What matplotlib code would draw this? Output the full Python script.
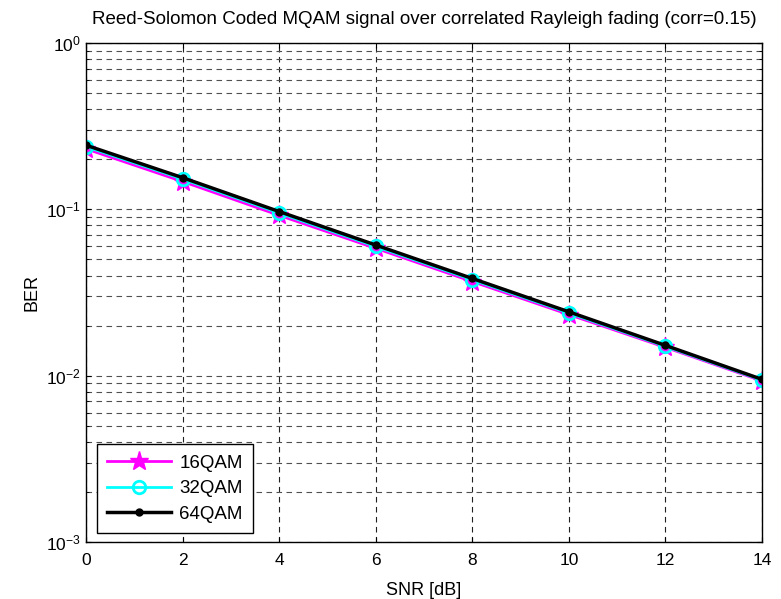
import math
import matplotlib.pyplot as plt
from matplotlib.ticker import LogLocator, NullFormatter, FuncFormatter

plt.rcParams['font.family'] = ['Liberation Sans', 'DejaVu Sans']

snr = [0, 2, 4, 6, 8, 10, 12, 14]
ber_16 = [0.231, 0.147, 0.092, 0.0583, 0.0368, 0.0233, 0.0148, 0.0093]
ber_32 = [0.238, 0.152, 0.095, 0.0598, 0.0377, 0.0238, 0.0150, 0.0094]
ber_64 = [0.243, 0.155, 0.097, 0.0610, 0.0384, 0.0242, 0.0152, 0.0095]
xticks = [0, 2, 4, 6, 8, 10, 12, 14]

fig = plt.figure(figsize=(7.81, 5.99), dpi=100)
ax = fig.add_axes([86 / 781, 1 - 542 / 599, 676 / 781, 499 / 599])

ax.semilogy(snr, ber_16, color='magenta', lw=2, marker='*', ms=14, label='16QAM')
ax.semilogy(snr, ber_32, color='cyan', lw=2, marker='o', ms=9, mfc='none', mew=2, label='32QAM')
ax.semilogy(snr, ber_64, color='black', lw=2.5, marker='o', ms=5, label='64QAM')

ax.set_xlim(0, 14)
ax.set_ylim(1e-3, 1)
ax.set_xticks(xticks)
ax.yaxis.set_major_locator(LogLocator(base=10, numticks=10))
ax.yaxis.set_major_formatter(FuncFormatter(lambda v, p: r'$\mathregular{10^{%d}}$' % round(math.log10(v))))
ax.yaxis.set_minor_locator(LogLocator(base=10, subs=range(2, 10), numticks=20))
ax.yaxis.set_minor_formatter(NullFormatter())
ax.grid(True, which='both', axis='y', ls=(0, (5, 4)), color='#505050', lw=0.8)
ax.grid(True, which='major', axis='x', ls=(0, (5, 4)), color='#202020', lw=0.8)
ax.tick_params(direction='in', which='both', top=True, right=True, labelsize=12.5)
ax.tick_params(axis='x', pad=8)
for s in ax.spines.values():
    s.set_linewidth(1.0)

ax.set_xlabel('SNR [dB]', fontsize=13, labelpad=10)
ax.set_ylabel('BER', fontsize=13, labelpad=4)
ax.set_title('Reed-Solomon Coded MQAM signal over correlated Rayleigh fading (corr=0.15)',
             fontsize=13.5, pad=14)

leg = ax.legend(loc='lower left', bbox_to_anchor=(11 / 676, 9 / 499), borderaxespad=0,
                fontsize=13.5, fancybox=False, edgecolor='black', framealpha=1,
                handlelength=3.4, handletextpad=0.45, labelspacing=0.45, borderpad=0.55)
leg.get_frame().set_linewidth(1.0)

fig.savefig('out.png', dpi=100)
